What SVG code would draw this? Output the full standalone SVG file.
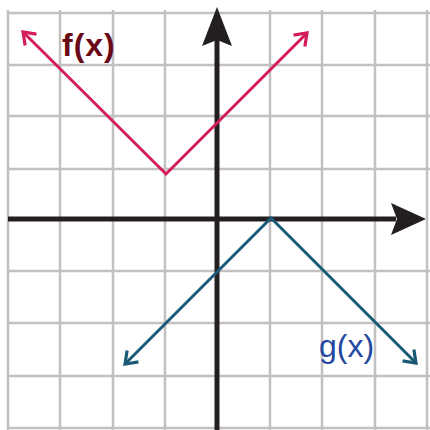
<svg xmlns="http://www.w3.org/2000/svg" width="430" height="430" viewBox="0 0 430 430">
<style>
.grid line{stroke:#c4c0c0;stroke-width:2.5}
.axis{stroke:#231f20;stroke-width:5;fill:none}
.head{fill:#231f20}
.f{stroke:#d31d5d;stroke-width:3;fill:none}
.g{stroke:#1a5a76;stroke-width:3;fill:none}
.lab{font-family:"Liberation Sans",Arial,sans-serif;font-size:32px}
</style>
<defs>
<marker id="af" viewBox="-16 -10 20 20" markerWidth="20" markerHeight="20" refX="0" refY="0" orient="auto-start-reverse" markerUnits="userSpaceOnUse">
<path d="M-11,-8 L0,0 L-11,8" fill="none" stroke="#d31d5d" stroke-width="3.2"/>
</marker>
<marker id="ag" viewBox="-16 -10 20 20" markerWidth="20" markerHeight="20" refX="0" refY="0" orient="auto-start-reverse" markerUnits="userSpaceOnUse">
<path d="M-11,-8 L0,0 L-11,8" fill="none" stroke="#1a5a76" stroke-width="3.2"/>
</marker>
</defs>
<rect width="430" height="430" fill="#ffffff"/>
<g class="grid" id="grid">
<line x1="8" y1="10" x2="8" y2="430"/>
<line x1="60" y1="10" x2="60" y2="430"/>
<line x1="113" y1="10" x2="113" y2="430"/>
<line x1="165" y1="10" x2="165" y2="430"/>
<line x1="270" y1="10" x2="270" y2="430"/>
<line x1="322" y1="10" x2="322" y2="430"/>
<line x1="375" y1="10" x2="375" y2="430"/>
<line x1="427" y1="10" x2="427" y2="430"/>
<line x1="8" y1="13" x2="430" y2="13"/>
<line x1="8" y1="65" x2="430" y2="65"/>
<line x1="8" y1="116" x2="430" y2="116"/>
<line x1="8" y1="169" x2="430" y2="169"/>
<line x1="8" y1="271" x2="430" y2="271"/>
<line x1="8" y1="323" x2="430" y2="323"/>
<line x1="8" y1="376" x2="430" y2="376"/>
<line x1="8" y1="428" x2="430" y2="428"/>
</g>
<g id="axes">
<line class="axis" x1="217" y1="38" x2="217" y2="430"/>
<polygon class="head" points="217,7 202,46 217,40 232,46"/>
<line class="axis" x1="8" y1="219" x2="396" y2="219"/>
<polygon class="head" points="426,219 391,203 397,219 391,235"/>
</g>
<g id="connectors">
<polyline id="f-graph" class="f" points="23,32 166,174 307,33" marker-start="url(#af)" marker-end="url(#af)"/>
<polyline id="g-graph" class="g" points="125,364 271,218 416,363" marker-start="url(#ag)" marker-end="url(#ag)"/>
</g>
<g id="label-f"><text class="lab" x="62" y="56" fill="#6a0a16" font-weight="bold" letter-spacing="1">f(x)</text></g>
<g id="label-g"><text class="lab" x="319" y="357" fill="#2548a0">g(x)</text></g>
</svg>
